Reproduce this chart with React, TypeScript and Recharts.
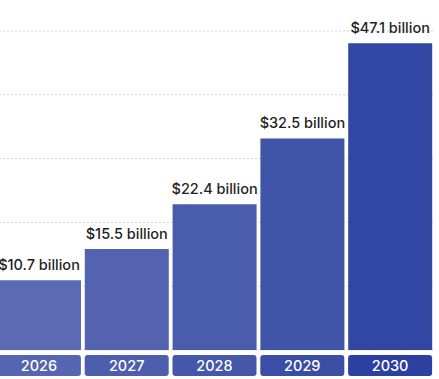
import { BarChart, Bar, XAxis, YAxis, CartesianGrid, Cell, LabelList } from "recharts";

const years = ["2026", "2027", "2028", "2029", "2030"];
const marketSize = [10.7, 15.5, 22.4, 32.5, 47.1];
const barColors = ["#5565b1", "#4d5ead", "#4457a9", "#3a4ea5", "#2b40a0"];
const gridTicks = [0, 9.8, 19.6, 29.4, 39.2, 49];

const data = years.map((year, i) => ({ year, value: marketSize[i] }));

const FONT = "Inter, 'Open Sans', sans-serif";

function YearTick(props: any) {
    const { x, y, payload, index } = props;
    return (
        <g>
            <rect x={x - 42} y={y + 5} width={84} height={21} rx={3} fill={barColors[index] ?? barColors[0]} />
            <text x={x} y={y + 21} textAnchor="middle" fill="#ffffff" fontSize={14.5} fontWeight={500} fontFamily={FONT}>
                {payload.value}
            </text>
        </g>
    );
}

export default function App() {
    return (
        <div style={{ position: "absolute", left: 0, top: 0, width: 439, height: 379, background: "#fff" }}>
            <BarChart width={439} height={379} data={data} margin={{ top: 31, right: 5, bottom: 0, left: -5 }}>
                <CartesianGrid vertical={false} stroke="#d2d2d2" strokeDasharray="2 2" />
                <YAxis hide domain={[0, 49]} ticks={gridTicks} />
                <XAxis
                    dataKey="year"
                    axisLine={false}
                    tickLine={false}
                    tickSize={0}
                    tickMargin={0}
                    height={29}
                    interval={0}
                    tick={<YearTick />}
                />
                <Bar dataKey="value" barSize={84} isAnimationActive={false} fillOpacity={0.97}>
                    {data.map((entry, index) => (
                        <Cell key={`cell-${index}`} fill={barColors[index]} />
                    ))}
                    <LabelList
                        dataKey="value"
                        position="top"
                        offset={10}
                        formatter={(v: any) => `$${v} billion`}
                        fill="#1f1f1f"
                        fontSize={14.5}
                        fontWeight={500}
                        fontFamily={FONT}
                    />
                </Bar>
            </BarChart>
        </div>
    );
}
